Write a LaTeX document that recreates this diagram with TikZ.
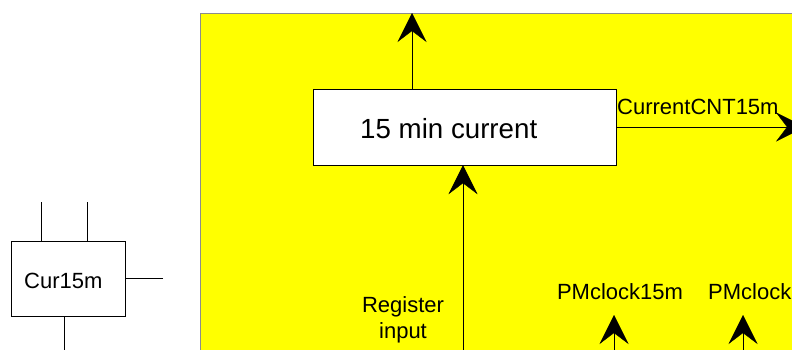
\documentclass[tikz,border=0pt]{standalone}
\usepackage{fontspec}
\setmainfont{Liberation Sans}
\usetikzlibrary{arrows.meta}
\usetikzlibrary{positioning}
\definecolor{paneyellow}{rgb}{1.0, 1.0, 0.0}
\definecolor{panegray}{rgb}{0.55, 0.55, 0.55}

\begin{document}
\begin{tikzpicture}[x=1pt, y=-1pt,
	tip/.style={-{Stealth[length=29pt, width=29pt, inset=11pt]}},
	lbl/.style={font=\fontsize{22}{26}\selectfont, inner sep=0pt}]
						\useasboundingbox (0,0) rectangle (792,349);
						\clip (0,0) rectangle (792,349);

						% yellow pane
						\fill[paneyellow] (200,13) rectangle (830,380);
						\draw[panegray] (200,380) -- (200,13) -- (830,13);

						% small block on the left
						\node[draw, minimum width=114pt, minimum height=75pt, inner sep=0pt] (cur) at (68,278.5) {};
						\node[lbl, anchor=base west] (curtxt) at (24,288) {Cur15m};
						\coordinate (c1) at (41,202);
						\coordinate (c2) at (87,202);
						\coordinate (c3) at (163,278);
						\coordinate (c4) at (64,360);
						\draw (c1) -- (c1 |- cur.north);
						\draw (c2) -- (c2 |- cur.north);
						\draw (c3) -- (c3 -| cur.east);
						\draw (c4) -- (c4 |- cur.south);

						% main block
						\node[draw, fill=white, minimum width=303pt, minimum height=76pt, inner sep=0pt] (cnt) at (464.5,127) {};
						\node[font=\fontsize{27.7}{30}\selectfont, inner sep=0pt, anchor=base west] (cnttxt) at (360,138) {15 min current};

						\coordinate (up) at (412,13);
						\draw[tip] (up |- cnt.north) -- (up);

						\coordinate (right) at (805,127);
						\draw[tip] (cnt.east |- right) -- (right);
						\node[lbl, anchor=base west] (cntout) at (617,114) {CurrentCNT15m};

						\coordinate (reg) at (463,360);
						\draw[tip] (reg) -- (reg |- cnt.south);
						\node[lbl, anchor=base, align=center] (regtxt) at (403,312) {Register};
						\node[lbl, anchor=base] (regtxt2) at (403,338) {input};

						% clock inputs
						\coordinate (k1) at (614,360);
						\coordinate (k2) at (743,360);
						\draw[tip] (k1) -- (614,315);
						\draw[tip] (k2) -- (743,315);
						\node[lbl, anchor=base] (k1txt) at (620,299) {PMclock15m};
						\node[lbl, anchor=base west] (k2txt) at (708,299) {PMclock};
					\end{tikzpicture}
\end{document}
